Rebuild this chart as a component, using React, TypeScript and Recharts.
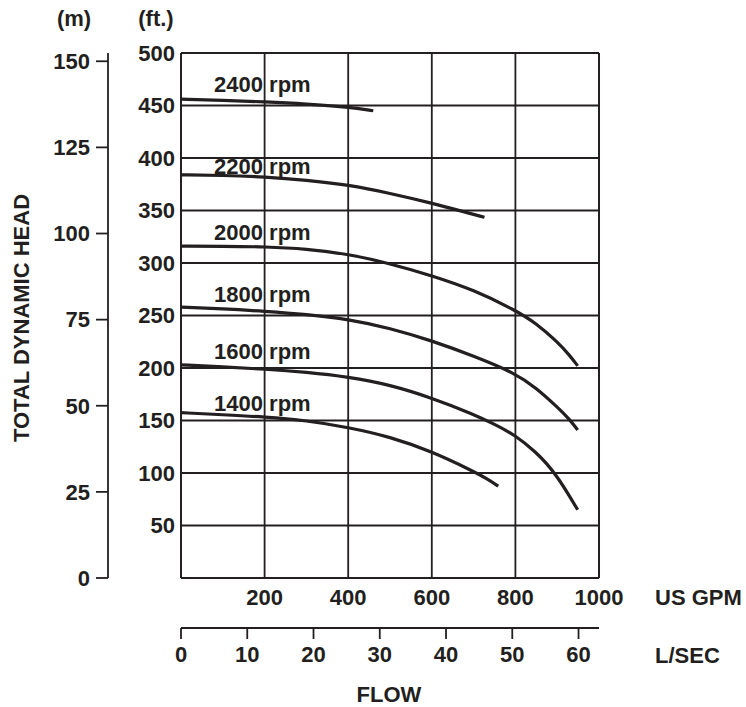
import { LineChart, Line, XAxis, YAxis, CartesianGrid, ReferenceDot, ReferenceLine } from "recharts";

const INK = "#231f20";
const FONT = '"Liberation Sans", Arial, Helvetica, sans-serif';

// axis ticks
const gpmTicks = [200, 400, 600, 800, 1000];
const ftTicks = [50, 100, 150, 200, 250, 300, 350, 400, 450, 500];
const mTicks = [0, 25, 50, 75, 100, 125, 150];
const lsTicks = [0, 10, 20, 30, 40, 50, 60];

// pump curves, flow in US GPM / head in ft
const gpm2400 = [0, 100, 200, 300, 400, 460];
const head2400 = [456, 455, 453.5, 451.5, 448.5, 445];

const gpm2200 = [0, 100, 200, 300, 400, 500, 600, 675, 726];
const head2200 = [384, 383.5, 382, 379, 374.5, 366.5, 357, 349, 343.5];

const gpm2000 = [0, 100, 200, 300, 400, 500, 600, 700, 800, 850, 900, 930, 949];
const head2000 = [316, 316, 315.5, 313.5, 308.5, 299.5, 288, 274.5, 255, 242.5, 225, 212, 202];

const gpm1800 = [0, 100, 200, 300, 400, 500, 600, 700, 800, 850, 900, 930, 949];
const head1800 = [258, 256.5, 254, 251, 246.5, 238, 226, 211.5, 195, 181, 163, 151, 141];

const gpm1600 = [0, 100, 200, 300, 400, 500, 600, 700, 750, 800, 850, 875, 900, 925, 949];
const head1600 = [203, 201, 199, 196, 191.5, 184, 171.5, 156, 146.5, 136, 119.5, 109, 96.5, 81, 65];

const gpm1400 = [0, 100, 200, 300, 400, 500, 600, 700, 730, 759];
const head1400 = [157.5, 155.5, 153.5, 150, 143.5, 134.5, 120.5, 101.5, 95, 87.5];

const rpmLabels = ["2400 rpm", "2200 rpm", "2000 rpm", "1800 rpm", "1600 rpm", "1400 rpm"];
const labelHead = [470, 392, 329, 270.5, 216, 167];
const LABEL_GPM = 79;

const curves = [
  [gpm2400, head2400],
  [gpm2200, head2200],
  [gpm2000, head2000],
  [gpm1800, head1800],
  [gpm1600, head1600],
  [gpm1400, head1400],
].map(([g, h]) => g.map((x, i) => ({ gpm: x, ft: h[i] })));

// rows for the L/SEC scale so that axis gets its ticks
const lsRows = lsTicks.map((v) => ({ ls: v }));

const tickStyle = { fill: INK, fontSize: 22, fontWeight: 700, fontFamily: FONT };
const txt = { fill: INK, fontSize: 22, fontWeight: 700, fontFamily: FONT } as const;

export default function App() {
  return (
    <div style={{ position: "absolute", left: 0, top: 0, width: 746, height: 707, background: "#fff" }}>
      <LineChart width={746} height={707} data={lsRows} margin={{ top: 53, right: 147, bottom: 39, left: 0 }}>
        <CartesianGrid xAxisId="gpm" yAxisId="ft" stroke={INK} strokeWidth={1.8} />
        <XAxis
          xAxisId="gpm"
          dataKey="gpm"
          type="number"
          domain={[0, 1000]}
          allowDataOverflow
          ticks={gpmTicks}
          height={50}
          tickLine={false}
          tickSize={0}
          tickMargin={11}
          axisLine={{ stroke: INK, strokeWidth: 1.8 }}
          tick={tickStyle}
        />
        <XAxis
          xAxisId="ls"
          dataKey="ls"
          type="number"
          domain={[0, 63.09]}
          allowDataOverflow
          ticks={lsTicks}
          interval={0}
          height={40}
          tickSize={11}
          tickMargin={7}
          tickLine={{ stroke: INK, strokeWidth: 1.8 }}
          axisLine={{ stroke: INK, strokeWidth: 1.8 }}
          tick={tickStyle}
        />
        <YAxis
          yAxisId="ft"
          type="number"
          domain={[0, 500]}
          ticks={ftTicks}
          width={73}
          tickLine={false}
          tickSize={0}
          tickMargin={6}
          axisLine={{ stroke: INK, strokeWidth: 1.8 }}
          tick={tickStyle}
        />
        <YAxis
          yAxisId="m"
          type="number"
          domain={[0, 152.4]}
          allowDataOverflow
          ticks={mTicks}
          width={108}
          tickSize={12}
          tickMargin={6}
          tickLine={{ stroke: INK, strokeWidth: 1.8 }}
          axisLine={{ stroke: INK, strokeWidth: 1.8 }}
          tick={tickStyle}
        />
        <ReferenceLine xAxisId="gpm" yAxisId="ft" y={500} stroke={INK} strokeWidth={1.8} />
        <ReferenceLine xAxisId="gpm" yAxisId="ft" x={1000} stroke={INK} strokeWidth={1.8} />
        {curves.map((d, i) => (
          <Line
            key={rpmLabels[i]}
            xAxisId="gpm"
            yAxisId="ft"
            data={d}
            dataKey="ft"
            type="basis"
            stroke={INK}
            strokeWidth={3.2}
            dot={false}
            activeDot={false}
            isAnimationActive={false}
          />
        ))}
        {rpmLabels.map((t, i) => (
          <ReferenceDot
            key={t}
            xAxisId="gpm"
            yAxisId="ft"
            x={LABEL_GPM}
            y={labelHead[i]}
            r={0}
            shape={(p: any) => (
              <text x={p.cx} y={p.cy} dy="0.36em" {...txt}>
                {t}
              </text>
            )}
          />
        ))}
        <text x={74} y={26} textAnchor="middle" {...txt}>(m)</text>
        <text x={156} y={26} textAnchor="middle" {...txt}>(ft.)</text>
        <text x={29} y={318} textAnchor="middle" transform="rotate(-90, 29, 318)" {...txt}>
          TOTAL DYNAMIC HEAD
        </text>
        <text x={655} y={605} {...txt}>US GPM</text>
        <text x={655} y={663} {...txt}>L/SEC</text>
        <text x={389} y={702} textAnchor="middle" {...txt}>FLOW</text>
      </LineChart>
    </div>
  );
}
